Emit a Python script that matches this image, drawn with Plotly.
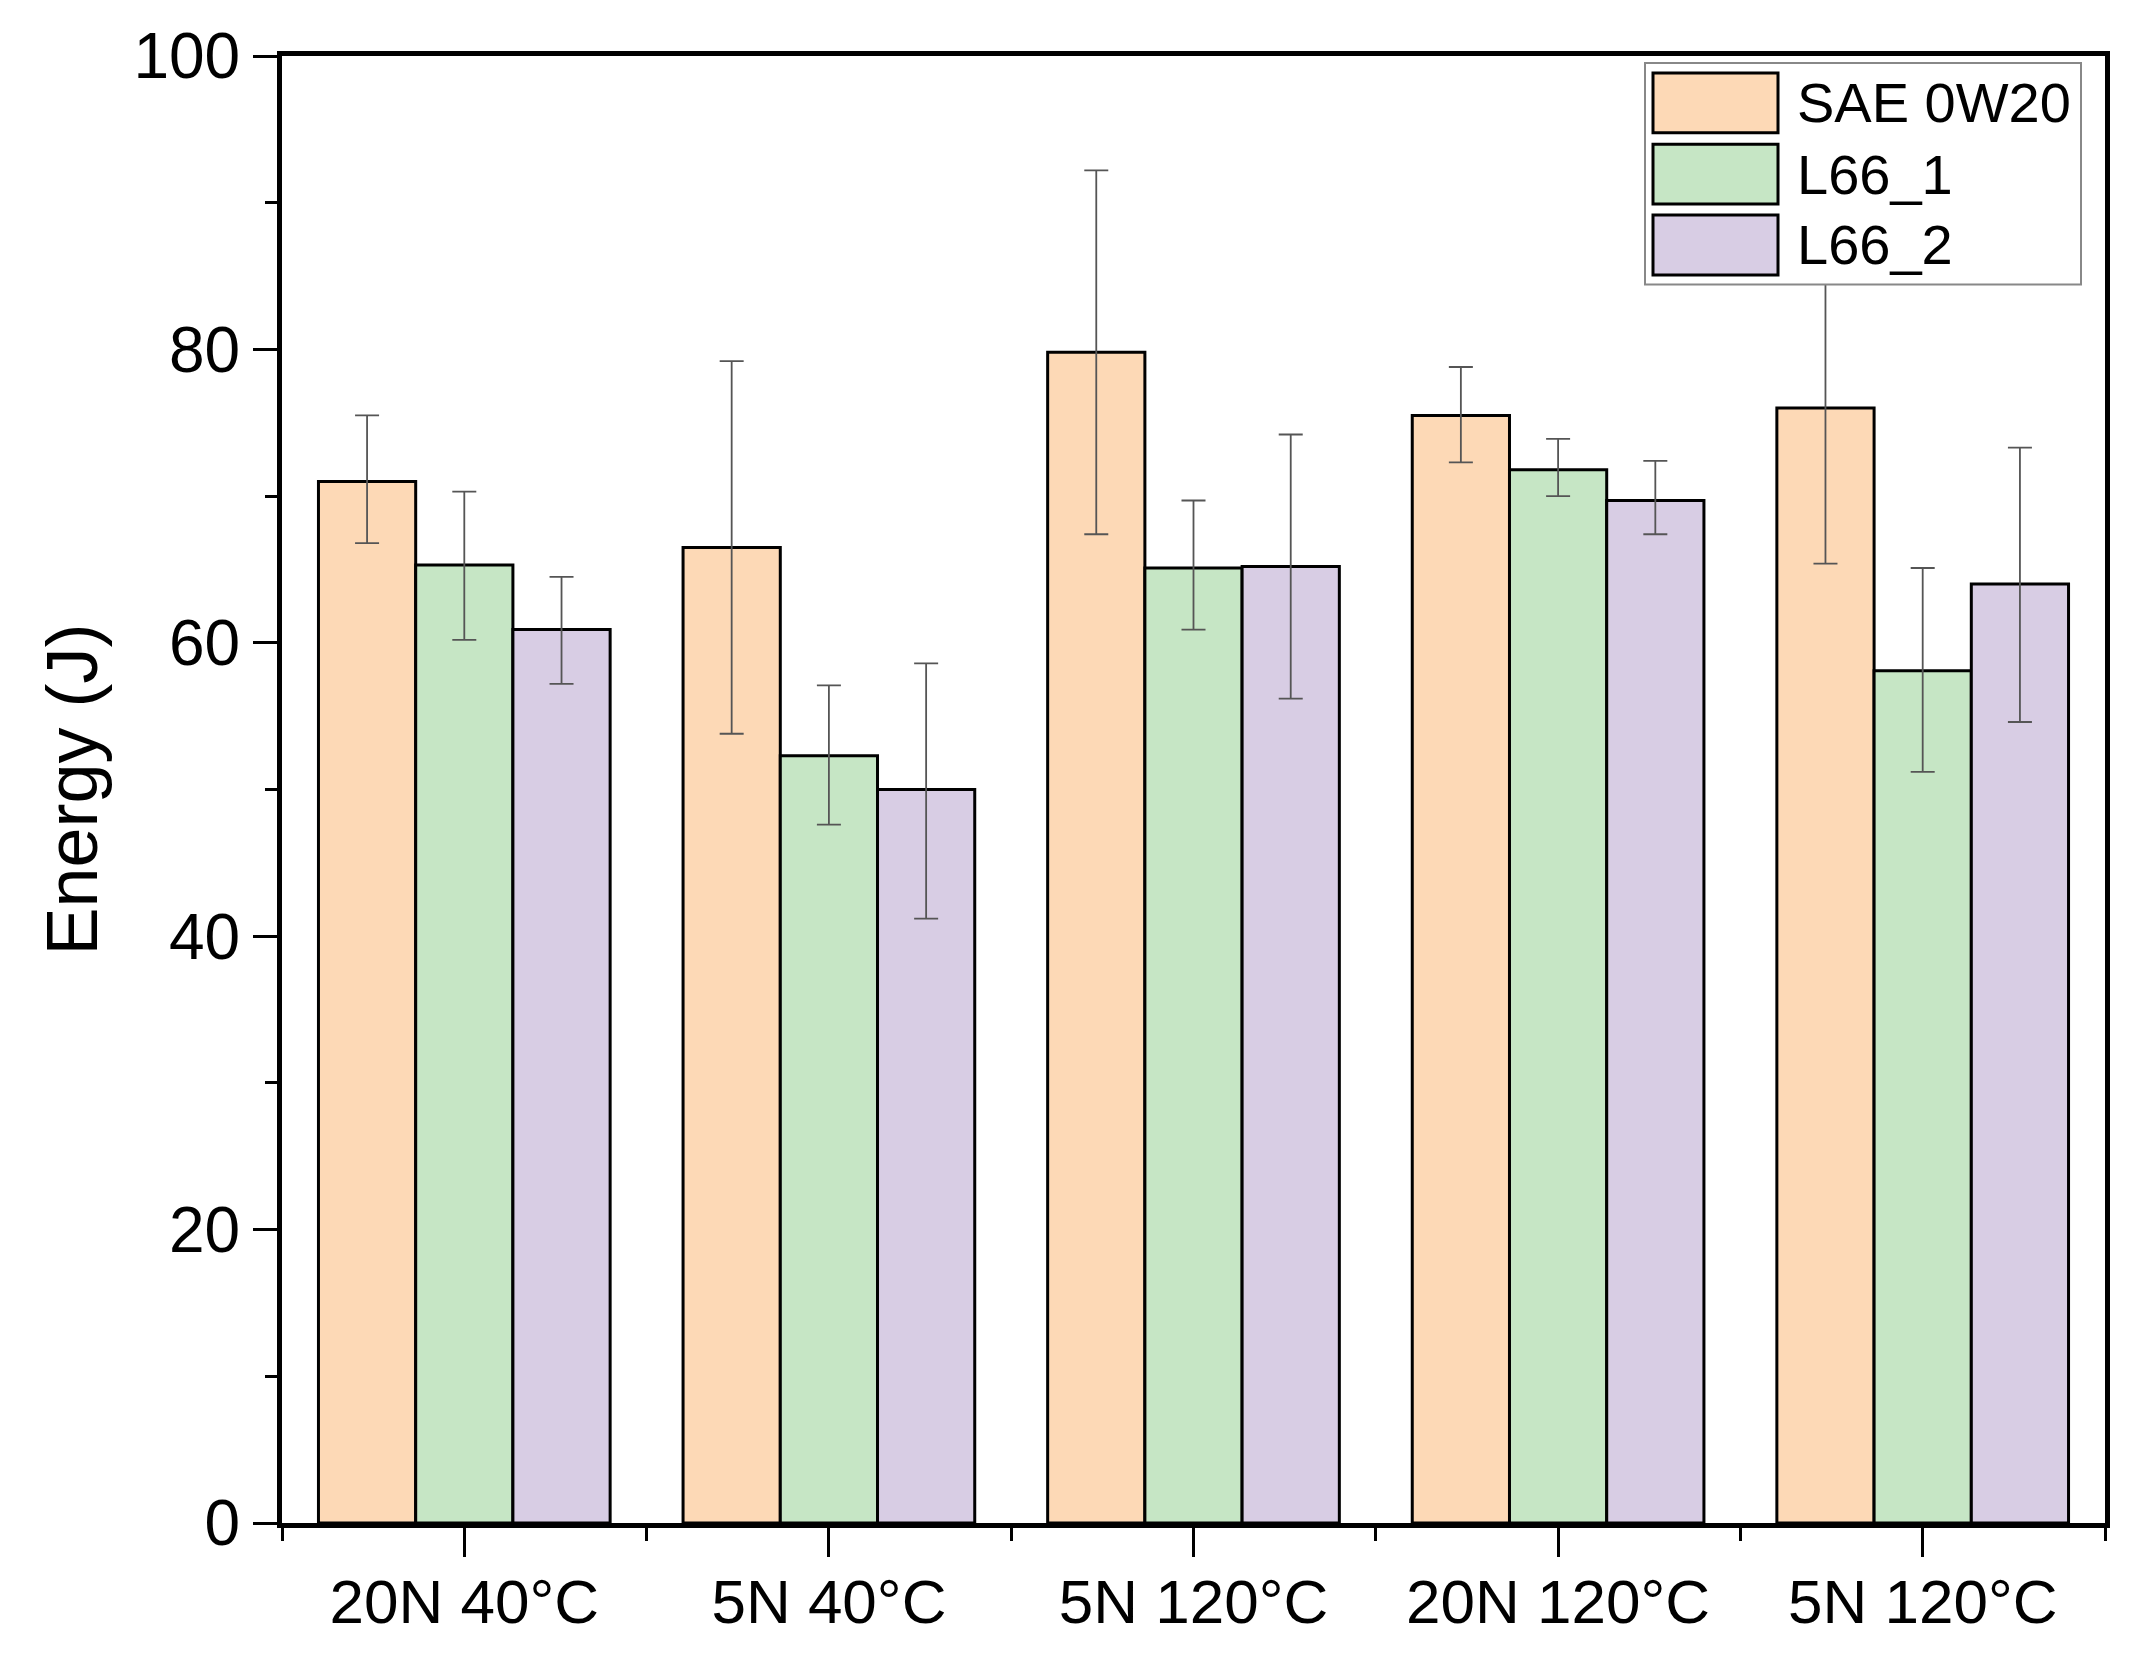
import plotly.graph_objects as go

# Категории по оси X (две группы "5N 120°C" в оригинале повторяются)
categories = ["20N 40°C", "5N 40°C", "5N 120°C", "20N 120°C", "5N 120°C"]
series_names = ["SAE 0W20", "L66_1", "L66_2"]

# Средние значения энергии, Дж
sae_0w20 = [71.0, 66.5, 79.8, 75.5, 76.0]
l66_1 = [65.3, 52.3, 65.1, 71.8, 58.1]
l66_2 = [60.9, 50.0, 65.2, 69.7, 64.0]

# Погрешности (вверх / вниз)
sae_err_up = [4.5, 12.7, 12.4, 3.3, 10.6]
sae_err_down = [4.2, 12.7, 12.4, 3.2, 10.6]
l66_1_err_up = [5.0, 4.8, 4.6, 2.1, 7.0]
l66_1_err_down = [5.1, 4.7, 4.2, 1.8, 6.9]
l66_2_err_up = [3.6, 8.6, 9.0, 2.7, 9.3]
l66_2_err_down = [3.7, 8.8, 9.0, 2.3, 9.4]

colors = ["#FDD9B6", "#C6E6C5", "#D8CDE4"]

# страница добавляет отступ body 8px, поэтому фигура чуть меньше окна
PAGE_OFF = 8
W, H = 2122, 1651
M_L, M_R, M_T, M_B = 274, 25, 44, 136


def px_x(p):
    return (p - PAGE_OFF - M_L) / (W - M_L - M_R)


def px_y(p):
    return 1 - (p - PAGE_OFF - M_T) / (H - M_T - M_B)


x_pos = list(range(len(categories)))
values = [sae_0w20, l66_1, l66_2]
errs_up = [sae_err_up, l66_1_err_up, l66_2_err_up]
errs_down = [sae_err_down, l66_1_err_down, l66_2_err_down]

fig = go.Figure()

for name, vals, up, down, color in zip(series_names, values, errs_up, errs_down, colors):
    fig.add_trace(go.Bar(
        x=x_pos,
        y=vals,
        name=name,
        marker=dict(color=color, line=dict(color="black", width=3)),
        error_y=dict(type="data", symmetric=False, array=up, arrayminus=down,
                     color="#555555", thickness=1.8, width=12),
        showlegend=False,
    ))

font_family = "Arial, Liberation Sans, sans-serif"

# Легенда вручную (большие прямоугольники как в оригинале)
shapes = [dict(type="rect", xref="paper", yref="paper",
               x0=px_x(1645), x1=px_x(2081), y0=px_y(281), y1=px_y(59),
               line=dict(color="#888888", width=2), fillcolor="white", layer="above")]
annotations = []
row_centers = [99, 170.5, 241.5]
for name, color, yc in zip(series_names, colors, row_centers):
    shapes.append(dict(type="rect", xref="paper", yref="paper",
                       x0=px_x(1653), x1=px_x(1778), y0=px_y(yc + 30), y1=px_y(yc - 30),
                       line=dict(color="black", width=3), fillcolor=color, layer="above"))
    annotations.append(dict(xref="paper", yref="paper", x=px_x(1795), y=px_y(yc),
                            text=name, showarrow=False, xanchor="left", yanchor="middle",
                            font=dict(family=font_family, size=56, color="black")))

fig.update_layout(
    width=W,
    height=H,
    margin=dict(l=M_L, r=M_R, t=M_T, b=M_B),
    barmode="group",
    bargap=0.2,
    bargroupgap=0,
    plot_bgcolor="white",
    paper_bgcolor="white",
    font=dict(family=font_family, color="black"),
    shapes=shapes,
    annotations=annotations,
    xaxis=dict(
        range=[-0.5, len(categories) - 0.5],
        tickmode="array",
        tickvals=x_pos,
        ticktext=categories,
        ticks="outside",
        ticklen=29,
        tickwidth=3,
        tickcolor="black",
        tickfont=dict(size=62),
        ticklabelstandoff=-8,
        showline=True,
        linewidth=5,
        linecolor="black",
        mirror=True,
        showgrid=False,
        zeroline=False,
        minor=dict(tickmode="array", tickvals=[i - 0.5 for i in range(len(categories) + 1)],
                   ticks="outside", ticklen=13, tickwidth=3, tickcolor="black", showgrid=False),
    ),
    yaxis=dict(
        range=[0, 100],
        dtick=20,
        ticks="outside",
        ticklen=24,
        tickwidth=3,
        tickcolor="black",
        tickfont=dict(size=64),
        showline=True,
        linewidth=5,
        linecolor="black",
        mirror=True,
        showgrid=False,
        zeroline=False,
        title=dict(text="Energy (J)", font=dict(size=72), standoff=14),
        minor=dict(dtick=10, ticks="outside", ticklen=12, tickwidth=3,
                   tickcolor="black", showgrid=False),
    ),
)

fig.write_html("out.html")
